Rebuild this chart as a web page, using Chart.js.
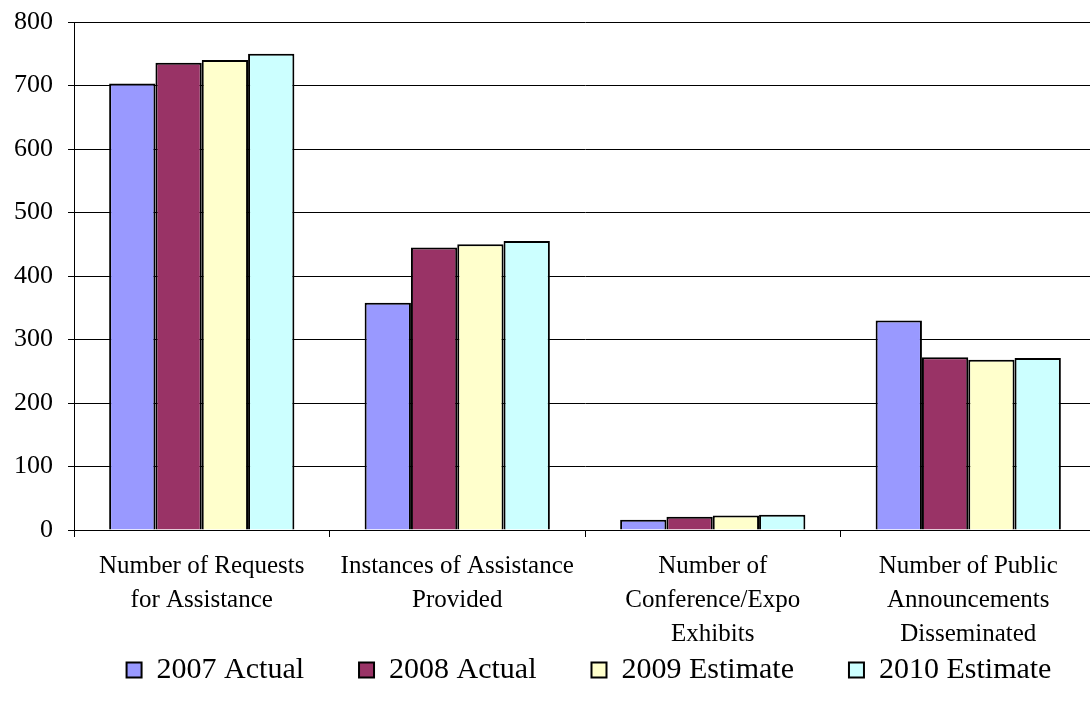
<!DOCTYPE html>
<html>
<head>
<meta charset="utf-8">
<script src="https://cdn.jsdelivr.net/npm/chart.js@4/dist/chart.umd.min.js"></script>
<style>
  html, body { margin: 0; padding: 0; background: #fff; overflow: hidden; }
  #wrap { position: absolute; left: 0; top: 0; width: 1100px; height: 713px; }
</style>
</head>
<body>
<div id="wrap"><canvas id="c" width="1100" height="713"></canvas></div>
<script>
// Category labels (multi-line)
const categories = [
  ["Number of Requests", "for Assistance"],
  ["Instances of Assistance", "Provided"],
  ["Number of", "Conference/Expo", "Exhibits"],
  ["Number of Public", "Announcements", "Disseminated"]
];

// Series values
const actual2007   = [703, 358, 16, 330];
const actual2008   = [736, 445, 21, 272];
const estimate2009 = [740, 450, 23, 268];
const estimate2010 = [750, 455, 24, 271];

const seriesNames  = ["2007 Actual", "2008 Actual", "2009 Estimate", "2010 Estimate"];
const seriesColors = ["#9999FF", "#993366", "#FFFFCC", "#CCFFFF"];

// Y axis ticks
const yTicks = [0, 100, 200, 300, 400, 500, 600, 700, 800];

const serif = "'Liberation Serif', 'Times New Roman', serif";

const seriesValues = [actual2007, actual2008, estimate2009, estimate2010];
const datasets = seriesValues.map((vals, i) => ({
  label: seriesNames[i],
  data: vals,
  backgroundColor: seriesColors[i],
  borderColor: "#000",
  borderWidth: 2,
  categoryPercentage: 0.725,
  barPercentage: 1.0
}));

// Places the legend row under the axis labels
const legendPlacement = {
  id: "legendPlacement",
  afterLayout(chart) {
    const lg = chart.legend;
    if (!lg) return;
    const dx = 41;
    lg.left += dx;
    lg.right += dx;
    lg.top = 600;
    lg.bottom = 713;
    lg.height = lg.bottom - lg.top;
  }
};

Chart.defaults.font.family = serif;
Chart.defaults.color = "#000";

new Chart(document.getElementById("c"), {
  type: "bar",
  data: { labels: categories, datasets },
  plugins: [legendPlacement],
  options: {
    responsive: false,
    animation: false,
    devicePixelRatio: 1,
    layout: { padding: { top: 22, right: 4, bottom: 0, left: 0 } },
    plugins: {
      tooltip: { enabled: false },
      legend: {
        position: "bottom",
        maxHeight: 30,
        labels: {
          font: { size: 30, family: serif },
          color: "#000",
          boxWidth: 15,
          boxHeight: 15,
          padding: 55
        }
      }
    },
    scales: {
      x: {
        offset: true,
        grid: {
          offset: true,
          drawOnChartArea: false,
          drawTicks: true,
          tickLength: 7,
          color: "#000",
          lineWidth: 1
        },
        border: { display: true, color: "#000", width: 1 },
        ticks: {
          font: { size: 25, family: serif, lineHeight: 1.35 },
          color: "#000",
          padding: 13,
          maxRotation: 0,
          autoSkip: false
        },
        afterFit(scale) { scale.height = 153; }
      },
      y: {
        min: 0,
        max: 800,
        afterBuildTicks(scale) { scale.ticks = yTicks.map(v => ({ value: v })); },
        grid: {
          color: "#000",
          lineWidth: 1,
          drawTicks: true,
          tickLength: 6
        },
        border: { display: true, color: "#000", width: 1 },
        ticks: {
          font: { size: 26, family: serif },
          color: "#000",
          padding: 15
        },
        afterFit(scale) {
          scale.width = 74;
          scale.paddingTop = 16;
          scale.paddingBottom = 16;
        }
      }
    }
  }
});
</script>
</body>
</html>
